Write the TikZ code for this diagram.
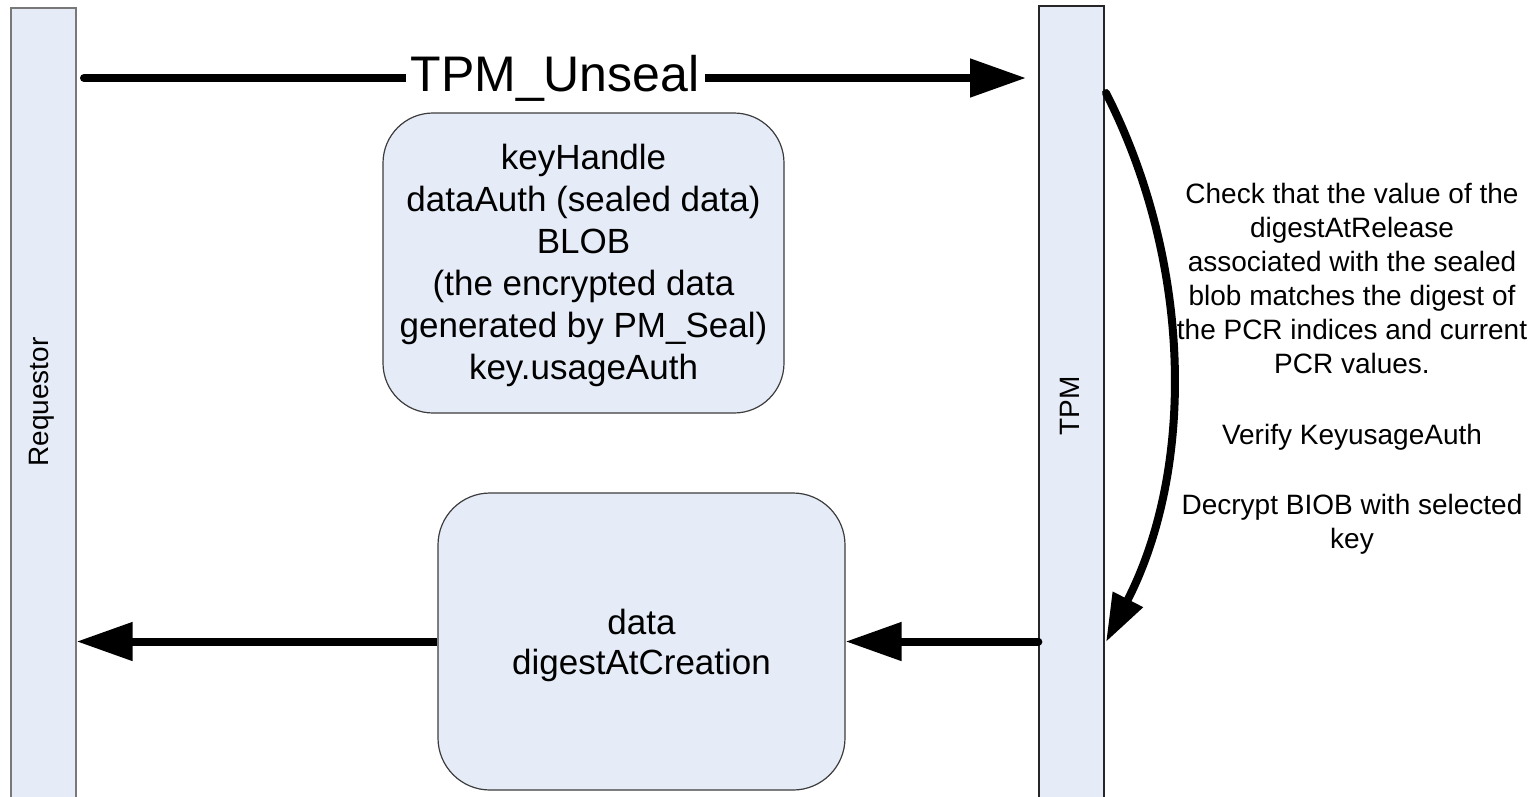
\documentclass[tikz,border=0pt]{standalone}
\usepackage{fontspec}
\setmainfont{Liberation Sans}
\usetikzlibrary{arrows.meta}
\definecolor{laneblue}{RGB}{230,236,247}
\definecolor{laneedge}{RGB}{120,120,120}
\definecolor{boxedge}{RGB}{60,60,60}
\begin{document}
\begin{tikzpicture}[x=1pt,y=-1pt,
  lifeline/.style={draw=laneedge, fill=laneblue, line width=1.3pt,
    minimum width=65pt, minimum height=820pt, inner sep=0pt},
  msgbox/.style={draw=boxedge, fill=laneblue, line width=1.2pt,
    rounded corners=50pt, inner sep=0pt},
  boxtext/.style={align=center, inner sep=0pt},
  msg/.style={line width=8pt, -{Triangle[length=56pt,width=37pt]}},
  lanelabel/.style={rotate=90, font=\fontsize{28}{34}\selectfont},
  notes/.style={align=center, font=\fontsize{28}{34}\selectfont}]
\useasboundingbox (0,0) rectangle (1539,796);

% lifelines
\node[lifeline] (req) at (43.5,418) {};
\node[lifeline, draw=black!85] (tpm) at (1071.5,416) {};
\node[lanelabel] (reqlabel) at (42,402) {Requestor};
\node[lanelabel] (tpmlabel) at (1070,406) {TPM};

% parameter boxes
\node[msgbox, minimum width=401pt, minimum height=300pt] (inbox) at (583.5,263) {};
\node[boxtext, font=\fontsize{35}{42}\selectfont] (intext) at ([yshift=-2pt]inbox.center)
  {keyHandle\\dataAuth (sealed data)\\BLOB\\(the encrypted data\\generated by PM\_Seal)\\key.usageAuth};
\node[msgbox, rounded corners=52pt, minimum width=407pt, minimum height=297pt] (outbox) at (641.5,641.5) {};
\node[boxtext, font=\fontsize{35}{40}\selectfont] (outtext) at ([yshift=-4pt]outbox.center)
  {data\\digestAtCreation};

% request message
\coordinate (u0) at (84,78);
\coordinate (u1) at (1026,78);
\draw[msg, line cap=round] (u0) -- (u1)
  node[midway, fill=white, inner xsep=5pt, inner ysep=0pt,
       font=\fontsize{50}{60}\selectfont] (cmd) {TPM\_Unseal};

% internal processing in the TPM
\coordinate (c0) at (1106,93);
\coordinate (c1) at (1106,642);
\draw[line width=8pt, line cap=round, -{Triangle[length=48pt,width=32pt]}]
  (c0) .. controls (1193,264) and (1195,469) .. (c1);
\node[notes] (steps) at (1352,369)
  {Check that the value of the\\digestAtRelease\\associated with the sealed\\blob matches the digest of\\the PCR indices and current\\PCR values.\\[37pt]Verify KeyusageAuth\\[36pt]Decrypt BIOB with selected\\key};

% response messages
\draw[msg, line cap=round] (tpm.west |- outbox.east) -- (outbox.east);
\draw[msg] (outbox.west) -- (req.east |- outbox.west);
\end{tikzpicture}
\end{document}
